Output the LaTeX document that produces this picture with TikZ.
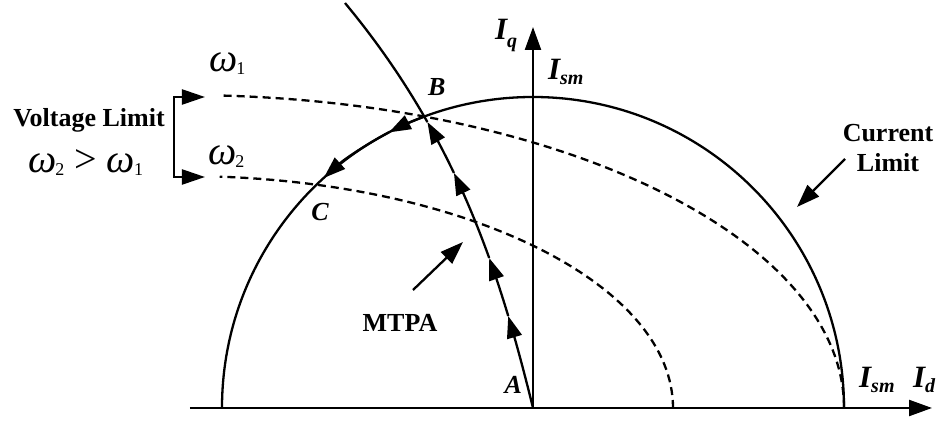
\documentclass[tikz,border=0pt]{standalone}
\usepackage{fontspec}
\setmainfont{Liberation Serif}
\usetikzlibrary{arrows.meta, positioning, calc}

% omega with a small index, current symbol with index
\newcommand{\omg}[1]{{\fontsize{20}{20}\selectfont\itshape ω}\kern-0.5pt\raisebox{-1.5pt}{\fontsize{9}{9}\selectfont #1}}
\newcommand{\curlab}[2][2.5pt]{{\fontsize{15.5}{15.5}\selectfont\bfseries\itshape I}\raisebox{-#1}{\fontsize{10}{10}\selectfont\bfseries\itshape #2}}

\begin{document}
\begin{tikzpicture}[
    x=0.5pt, y=0.5pt,
    line width=1.15pt,
    lbl/.style={font=\fontsize{13}{15}\selectfont\bfseries, inner sep=0pt},
    ptlbl/.style={font=\fontsize{13}{15}\selectfont\bfseries\itshape, inner sep=0pt},
    symlbl/.style={anchor=base west, inner sep=0pt},
    axarrow/.style={-{Triangle[length=11.5pt, width=8pt]}},
    flow/.style={-{Triangle[length=11pt, width=7.5pt]}},
    vlim/.style={dash pattern=on 4pt off 2.5pt},
    declare function={mtx(\t)=-(24.54*\t+1.7573*\t*\t+0.9*\t*\t*\t);}
]
\useasboundingbox (-533,-14) rectangle (408,408);

% axes
\coordinate (O) at (0,0);
\coordinate (dleft) at (-343,0);
\coordinate (dright) at (399,0);
\coordinate (qtop) at (0,381);
\draw[axarrow] (dleft) -- (dright);
\draw[axarrow] (O) -- (qtop);

% current limit
\draw (311,0) arc[start angle=0, end angle=180, radius=311];

% voltage limits
\draw[vlim] (311,0) arc[start angle=0, end angle=86.8, x radius=661, y radius=313];
\draw[vlim] (140,0) arc[start angle=0, end angle=85.7, x radius=490, y radius=232];

% MTPA
\foreach \ta/\tb in {0/0.92, 0.92/1.5, 1.5/2.35, 2.35/2.86}
  \draw[flow] plot[domain=\ta:\tb, samples=12] ({mtx(\x)},{100*\x});
\draw plot[domain=2.86:4.05, samples=20] ({mtx(\x)},{100*\x});

% operating points
\coordinate (A) at (O);
\coordinate (B) at (110.46:311);
\coordinate (C) at (134.1:311);
\coordinate (bc) at (117.6:311);
\draw[flow] (B) arc[start angle=110.46, end angle=117.6, radius=311];
\draw[flow] (bc) arc[start angle=117.6, end angle=132.3, radius=311];

\node[ptlbl, above right=9.8pt and 1.4pt of B] (blab) {B};
\node[ptlbl, below=8.5pt of C, xshift=1.75pt] (clab) {C};
\node[ptlbl, above left=6.5pt and 5pt of A] (alab) {A};

% axis symbols
\node[symlbl] (iq) at (-39,368) {\curlab[4pt]{q}};
\node[symlbl] (ismtop) at (14,328) {\curlab{sm}};
\node[symlbl] (ismright) at (325,20) {\curlab{sm}};
\node[symlbl] (id) at (379,20) {\curlab{d}};

% voltage limit bracket
\coordinate (w1in) at (-359,311);
\coordinate (w1out) at (-328,311);
\coordinate (w2in) at (-359,231);
\coordinate (w2out) at (-328,231);
\draw[{Triangle[length=11.5pt, width=7.5pt]}-{Triangle[length=11.5pt, width=7.5pt]}] (w1out) -- (w1in) -- (w2in) -- (w2out);
\node[symlbl] (w1lab) at (-325,336) {\omg{1}};
\node[symlbl] (w2lab) at (-326,243) {\omg{2}};
\node[symlbl] (wcmp) at (-506,235) {\fontsize{20}{20}\selectfont\omg{2} > \omg{1}};
\node[lbl, anchor=base] (vlimit) at (-444,281) {Voltage Limit};

% pointers
\node[lbl, align=center, anchor=north] (climit) at (355,285) {Current\\Limit};
\coordinate (ctail) at (312,249);
\coordinate (ctip) at (264,201);
\draw[axarrow] (ctail) -- (ctip);
\node[lbl, anchor=base] (mtpa) at (-133,76) {MTPA};
\coordinate (mtail) at (-120,118);
\coordinate (mtip) at (-70,166);
\draw[axarrow] (mtail) -- (mtip);
\end{tikzpicture}
\end{document}
